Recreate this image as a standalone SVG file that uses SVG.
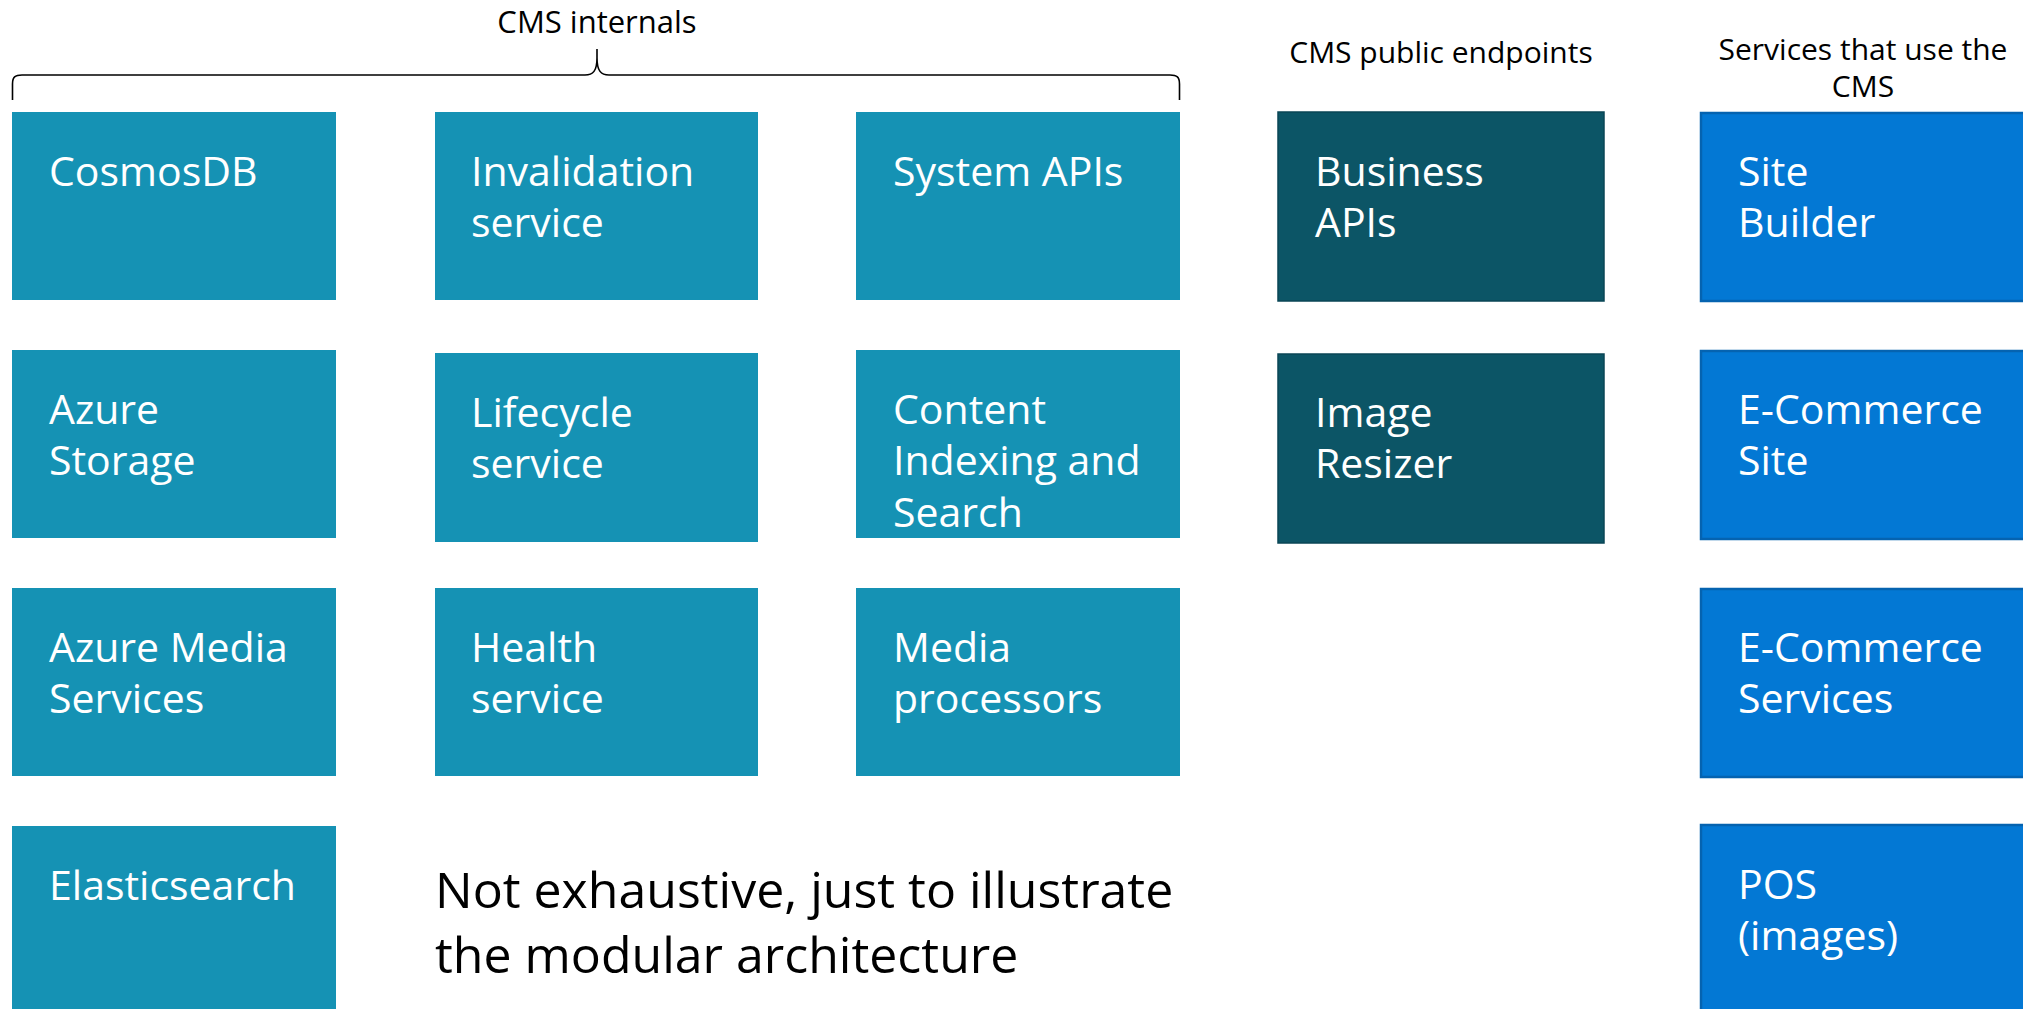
<svg xmlns="http://www.w3.org/2000/svg" width="2023" height="1009" viewBox="0 0 2023 1009">
<style>
.t{fill:#1592B4}
.d{fill:#0C5566;stroke:#0A4656;stroke-width:1.5}
.b{fill:#0378D4;stroke:#0563B0;stroke-width:2.5}
.lbl{font-family:"Open Sans","Noto Sans",sans-serif;font-size:41px;fill:#FFFFFF}
.hdr{font-family:"Open Sans","Noto Sans",sans-serif;font-size:30px;fill:#000000;text-anchor:middle}
.note{font-family:"Open Sans","Noto Sans",sans-serif;font-size:50px;fill:#000000}
</style>
<rect width="2023" height="1009" fill="#FFFFFF"/>
<g id="headers">
<text class="hdr" x="597" y="33" style="font-size:31px">CMS internals</text>
<text class="hdr" x="1441" y="63">CMS public endpoints</text>
<text class="hdr" x="1863" y="60">Services that use the<tspan x="1863" y="97">CMS</tspan></text>
</g>
<g id="connectors">
<path d="M12.5,100 L12.5,84 C12.5,77 15,75 22,75 L585,75 C593,75 597,71 597,58 L597,49 M597,58 C597,71 601,75 609,75 L1170,75 C1177,75 1179.5,77 1179.5,84 L1179.5,100" fill="none" stroke="#000000" stroke-width="1.6"/>
</g>
<g id="cosmosdb"><rect class="t" x="12" y="112" width="324" height="188"/><text class="lbl" x="49" y="186">CosmosDB</text></g>
<g id="invalidation"><rect class="t" x="435" y="112" width="323" height="188"/><text class="lbl" x="471" y="185.5">Invalidation<tspan x="471" y="236.5">service</tspan></text></g>
<g id="system-apis"><rect class="t" x="856" y="112" width="324" height="188"/><text class="lbl" x="893" y="186">System APIs</text></g>
<g id="azure-storage"><rect class="t" x="12" y="350" width="324" height="188"/><text class="lbl" x="49" y="424">Azure<tspan x="49" y="475">Storage</tspan></text></g>
<g id="lifecycle"><rect class="t" x="435" y="353" width="323" height="189"/><text class="lbl" x="471" y="427">Lifecycle<tspan x="471" y="478">service</tspan></text></g>
<g id="content-indexing"><rect class="t" x="856" y="350" width="324" height="188"/><text class="lbl" x="893" y="424">Content<tspan x="893" y="475">Indexing and</tspan><tspan x="893" y="527">Search</tspan></text></g>
<g id="azure-media"><rect class="t" x="12" y="588" width="324" height="188"/><text class="lbl" x="49" y="662">Azure Media<tspan x="49" y="713">Services</tspan></text></g>
<g id="health"><rect class="t" x="435" y="588" width="323" height="188"/><text class="lbl" x="471" y="662">Health<tspan x="471" y="713">service</tspan></text></g>
<g id="media-processors"><rect class="t" x="856" y="588" width="324" height="188"/><text class="lbl" x="893" y="662">Media<tspan x="893" y="713">processors</tspan></text></g>
<g id="elasticsearch"><rect class="t" x="12" y="826" width="324" height="190"/><text class="lbl" x="49" y="900">Elasticsearch</text></g>
<g id="note"><text class="note" x="435" y="908">Not exhaustive, just to illustrate<tspan x="435" y="973">the modular architecture</tspan></text></g>
<g id="business-apis"><rect class="d" x="1278" y="112" width="326" height="189"/><text class="lbl" x="1315" y="185.5">Business<tspan x="1315" y="236.5">APIs</tspan></text></g>
<g id="image-resizer"><rect class="d" x="1278" y="354" width="326" height="189"/><text class="lbl" x="1315" y="426.5">Image<tspan x="1315" y="477.5">Resizer</tspan></text></g>
<g id="site-builder"><rect class="b" x="1701" y="113" width="330" height="188"/><text class="lbl" x="1738" y="185.5">Site<tspan x="1738" y="236.5">Builder</tspan></text></g>
<g id="ecommerce-site"><rect class="b" x="1701" y="351" width="330" height="188"/><text class="lbl" x="1738" y="424">E-Commerce<tspan x="1738" y="475">Site</tspan></text></g>
<g id="ecommerce-services"><rect class="b" x="1701" y="589" width="330" height="188"/><text class="lbl" x="1738" y="661.5">E-Commerce<tspan x="1738" y="712.5">Services</tspan></text></g>
<g id="pos"><rect class="b" x="1701" y="825" width="330" height="195"/><text class="lbl" x="1738" y="899">POS<tspan x="1738" y="950">(images)</tspan></text></g>
</svg>
